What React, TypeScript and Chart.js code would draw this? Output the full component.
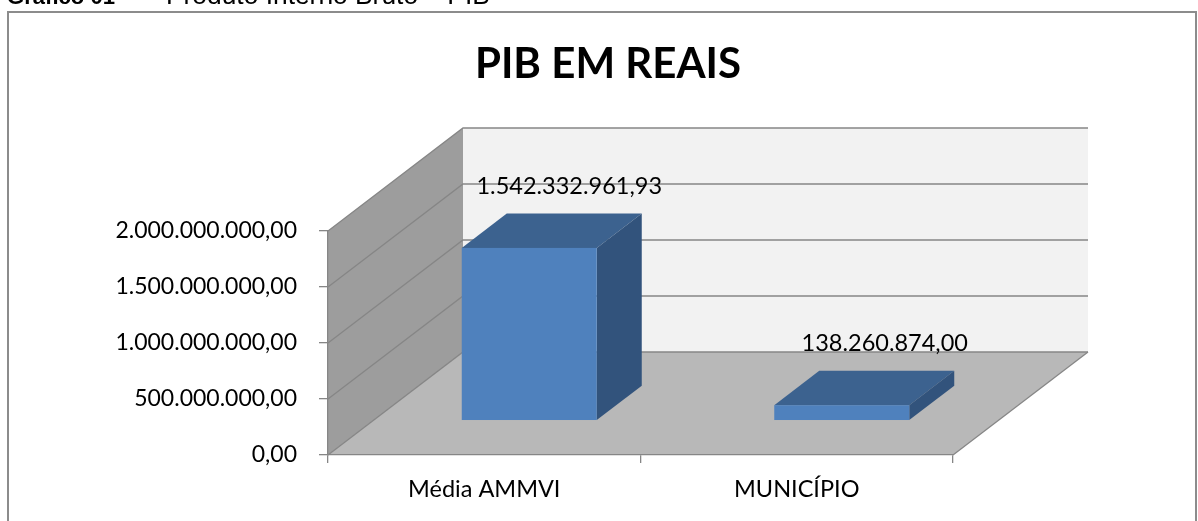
import React, { useEffect, useRef } from "react";
import { Chart, registerables } from "chart.js";

Chart.register(...registerables);

const categories: string[] = ["Média AMMVI", "MUNICÍPIO"];
const pibValues: number[] = [1542332961.93, 138260874.0];
const yTicks: number[] = [0, 500000000, 1000000000, 1500000000, 2000000000];
const chartTitle = "PIB EM REAIS";
const headerBold = "Gráfico 01";
const headerDash = "–";
const headerRest = "Produto Interno Bruto – PIB";

const W = 1198;
const H = 521;
const DX = 135;
const DY = -103;
const FONT = "Lato";
const GRID = "#868686";

function fmt(v: number): string {
  const [i, d] = v.toFixed(2).split(".");
  return i.replace(/\B(?=(\d{3})+(?!\d))/g, ".") + "," + d;
}

function fitText(ctx: CanvasRenderingContext2D, text: string, weight: string, family: string, target: number): string {
  ctx.font = `${weight} 20px ${family}`;
  const w = ctx.measureText(text).width || 1;
  const size = (20 * target) / w;
  return `${weight} ${size.toFixed(2)}px ${family}`;
}

const scenePlugin = {
  id: "scene3d",
  beforeDraw(chart: any) {
    const ctx = chart.ctx;
    const xs = chart.scales.x;
    const ys = chart.scales.y;
    const left = xs.left;
    const right = xs.right;
    const y0 = ys.getPixelForValue(yTicks[0]);
    const yTop = ys.getPixelForValue(yTicks[yTicks.length - 1]);
    ctx.save();
    // frame
    ctx.strokeStyle = "#8c8c8c";
    ctx.lineWidth = 2;
    ctx.beginPath();
    ctx.moveTo(8, H + 2);
    ctx.lineTo(8, 12);
    ctx.lineTo(1196, 12);
    ctx.lineTo(1196, H + 2);
    ctx.stroke();
    // header
    const hf = "'Liberation Sans', Arial, sans-serif";
    ctx.fillStyle = "#000";
    ctx.textBaseline = "alphabetic";
    ctx.textAlign = "left";
    ctx.font = fitText(ctx, headerBold, "bold", hf, 108);
    ctx.fillText(headerBold, 7, 4);
    ctx.font = `normal 25px ${hf}`;
    ctx.fillText(headerDash, 133, 4);
    ctx.font = fitText(ctx, headerRest, "normal", hf, 324);
    ctx.fillText(headerRest, 166, 4);
    // title
    ctx.font = `bold 42px ${FONT}`;
    ctx.textAlign = "center";
    ctx.fillText(chartTitle, 608, 78);

    // back wall
    ctx.fillStyle = "#f2f2f2";
    ctx.fillRect(left + DX, yTop + DY, right - left, y0 - yTop);
    // side wall
    ctx.fillStyle = "#9d9d9d";
    ctx.beginPath();
    ctx.moveTo(left, yTop);
    ctx.lineTo(left + DX, yTop + DY);
    ctx.lineTo(left + DX, y0 + DY);
    ctx.lineTo(left, y0);
    ctx.closePath();
    ctx.fill();
    // floor
    ctx.fillStyle = "#b8b8b8";
    ctx.beginPath();
    ctx.moveTo(left, y0);
    ctx.lineTo(left + DX, y0 + DY);
    ctx.lineTo(right + DX, y0 + DY);
    ctx.lineTo(right, y0);
    ctx.closePath();
    ctx.fill();
    ctx.strokeStyle = GRID;
    ctx.lineWidth = 1.3;
    ctx.beginPath();
    ctx.moveTo(right, y0);
    ctx.lineTo(right + DX, y0 + DY);
    ctx.stroke();
    // gridlines
    ctx.strokeStyle = GRID;
    ctx.lineWidth = 1.3;
    for (const v of yTicks) {
      const p = ys.getPixelForValue(v);
      ctx.beginPath();
      ctx.moveTo(left, p);
      ctx.lineTo(left + DX, p + DY);
      ctx.lineTo(right + DX, p + DY);
      ctx.stroke();
    }
    ctx.restore();
  },
  afterDatasetsDraw(chart: any) {
    const ctx = chart.ctx;
    const meta = chart.getDatasetMeta(0);
    const ddx = DX / 3;
    const ddy = DY / 3;
    ctx.save();
    meta.data.forEach((bar: any, i: number) => {
      const { x, y, base, width } = bar.getProps(["x", "y", "base", "width"], true);
      const xl = x - width / 2 + ddx;
      const xr = x + width / 2 + ddx;
      const yt = y + ddy;
      const yb = base + ddy;
      // top face
      ctx.fillStyle = "#3c628f";
      ctx.beginPath();
      ctx.moveTo(xl, yt);
      ctx.lineTo(xl + ddx, yt + ddy);
      ctx.lineTo(xr + ddx, yt + ddy);
      ctx.lineTo(xr, yt);
      ctx.closePath();
      ctx.fill();
      // side face
      ctx.fillStyle = "#32537c";
      ctx.beginPath();
      ctx.moveTo(xr, yt);
      ctx.lineTo(xr + ddx, yt + ddy);
      ctx.lineTo(xr + ddx, yb + ddy);
      ctx.lineTo(xr, yb);
      ctx.closePath();
      ctx.fill();
      // front face
      ctx.fillStyle = "#4f81bd";
      ctx.fillRect(xl, yt, xr - xl, yb - yt);
      // label
      ctx.fillStyle = "#000";
      ctx.font = `23.5px ${FONT}`;
      ctx.textAlign = "center";
      ctx.textBaseline = "middle";
      ctx.fillText(fmt(pibValues[i]), x + 85 + i * 3, yt + ddy - 27);
    });
    ctx.restore();
  },
};

export default function App() {
  const ref = useRef<HTMLCanvasElement | null>(null);
  useEffect(() => {
    if (!ref.current) return;
    const chart = new Chart(ref.current, {
      type: "bar",
      data: {
        labels: categories,
        datasets: [
          {
            label: "PIB",
            data: pibValues,
            backgroundColor: "rgba(0,0,0,0)",
            borderWidth: 0,
            categoryPercentage: 1,
            barPercentage: 0.432,
          },
        ],
      },
      options: {
        responsive: false,
        animation: false,
        devicePixelRatio: 1,
        layout: { autoPadding: false, padding: { top: 231, right: 245, bottom: 0, left: 0 } },
        plugins: { legend: { display: false }, title: { display: false }, tooltip: { enabled: false } },
        scales: {
          x: {
            afterFit: (s: any) => {
              s.height = 66;
            },
            grid: { offset: true, drawOnChartArea: false, drawTicks: true, tickLength: 8, color: GRID, lineWidth: 1.3 },
            border: { display: true, color: GRID, width: 1.3 },
            ticks: { color: "#000", padding: 12, font: { family: FONT, size: 23.5 } },
          },
          y: {
            min: 0,
            max: 2000000000,
            afterFit: (s: any) => {
              s.width = 328;
            },
            afterBuildTicks: (s: any) => {
              s.ticks = yTicks.map((v) => ({ value: v }));
            },
            grid: { drawOnChartArea: false, drawTicks: true, tickLength: 9, color: GRID, lineWidth: 1.3 },
            border: { display: true, color: GRID, width: 1.3 },
            ticks: {
              color: "#000",
              padding: 22,
              font: { family: FONT, size: 23 },
              callback: (v: any) => fmt(Number(v)),
            },
          },
        },
      },
      plugins: [scenePlugin],
    });
    return () => chart.destroy();
  }, []);
  return (
    <div style={{ position: "absolute", left: 0, top: 0, width: W, height: H, background: "#fff" }}>
      <canvas ref={ref} width={W} height={H} style={{ display: "block" }} />
    </div>
  );
}
